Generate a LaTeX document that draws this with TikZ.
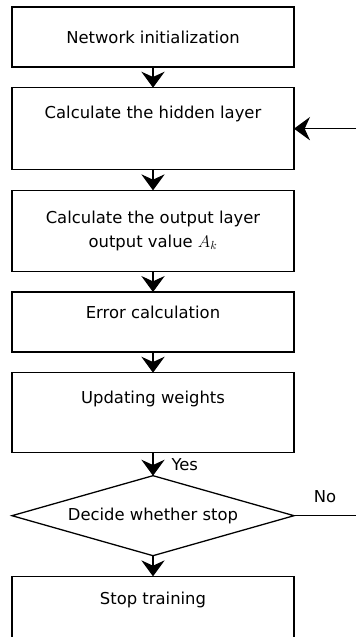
\documentclass[tikz,border=0pt]{standalone}
\usepackage{fontspec}
\setmainfont{DejaVu Sans}
\usetikzlibrary{arrows.meta,positioning,shapes.geometric}

\begin{document}
\begin{tikzpicture}[x=0.03cm,y=-0.03cm,node distance=0.62cm,
  stepbox/.style={draw,line width=1.1pt,minimum width=8.46cm,inner sep=0pt,
    outer sep=0pt,align=center,font=\fontsize{14}{20}\selectfont},
  decide/.style={diamond,draw,line width=1.1pt,minimum width=8.46cm,
    minimum height=2.4cm,inner sep=0pt,outer sep=0pt,aspect=3.5,
    font=\fontsize{14}{20}\selectfont},
  flow/.style={-{Stealth[width=0.7cm,length=0.48cm,inset=0.16cm]},line width=0.9pt},
  tag/.style={inner sep=0pt,font=\fontsize{14}{20}\selectfont}]
  \useasboundingbox (0,0) rectangle (356,637);
  % Steps
  \node[stepbox,minimum height=1.8cm] (init) at (153,37) {Network initialization};
  \node[stepbox,text height=0.915cm,text depth=1.545cm,below=of init]
    (hidden) {Calculate the hidden layer};
  \node[stepbox,minimum height=2.43cm,below=of hidden]
    (output) {Calculate the output layer\\output value $A_k$};
  \node[stepbox,text height=0.795cm,text depth=1.005cm,below=of output]
    (error) {Error calculation};
  \node[stepbox,text height=0.915cm,text depth=1.485cm,below=of error]
    (update) {Updating weights};
  \node[decide,below=0.69cm of update] (stop) {Decide whether stop};
  \node[stepbox,text height=0.855cm,text depth=1.035cm,below=of stop]
    (train) {Stop training};
  % Loop back
  \path (stop.east) ++(62,0) coordinate (noend);
  \coordinate (backin) at (noend |- hidden.east);
  % Arrows
  \draw[flow] (init) -- (hidden);
  \draw[flow] (hidden) -- (output);
  \draw[flow] (output) -- (error);
  \draw[flow] (error) -- (update);
  \draw[flow] (update) -- (stop)
    node[tag,midway,anchor=west,xshift=0.54cm] (yes) {Yes};
  \draw[flow] (stop) -- (train);
  \draw[line width=0.9pt] (stop.east) -- (noend)
    node[tag,midway,above=0.36cm] (no) {No};
  \draw[flow] (backin) -- (hidden.east);
\end{tikzpicture}
\end{document}
